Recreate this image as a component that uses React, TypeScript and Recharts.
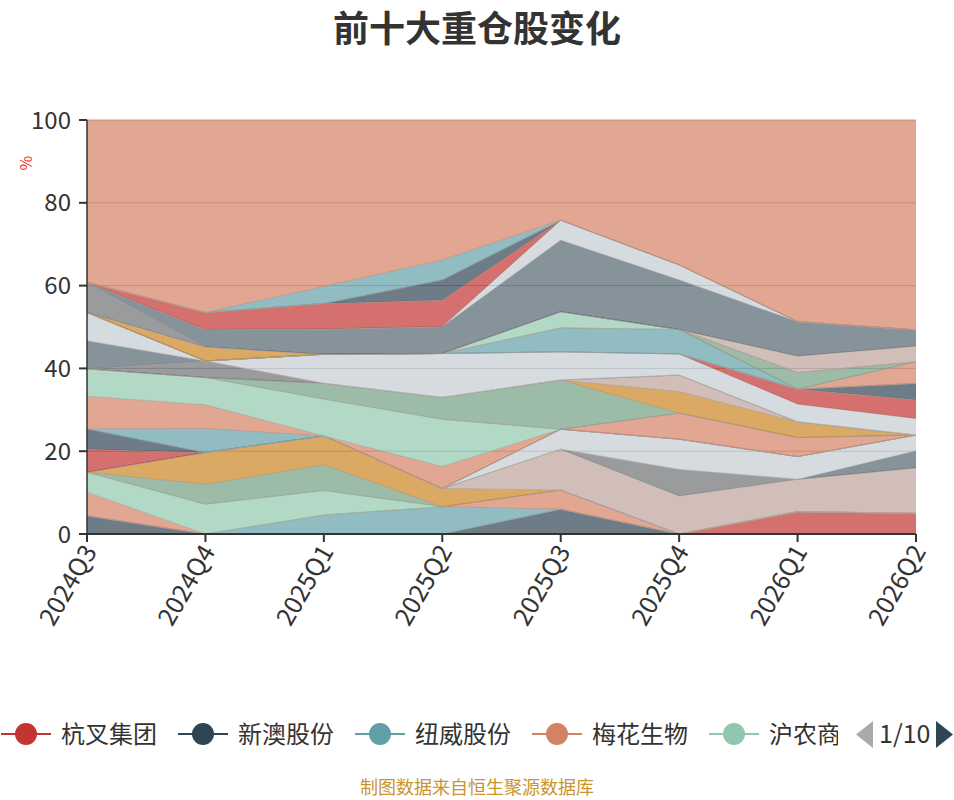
import React from 'react';
import { AreaChart, Area, XAxis, YAxis, CartesianGrid } from 'recharts';

const quarters = ['2024Q3', '2024Q4', '2025Q1', '2025Q2', '2025Q3', '2025Q4', '2026Q1', '2026Q2'];
const yTicks = [0, 20, 40, 60, 80, 100];
const palette = ['#c23531', '#2f4554', '#61a0a8', '#d48265', '#91c7ae', '#749f83', '#ca8622', '#bda29a', '#6e7074', '#546570', '#c4ccd3'];

// holding weight (%) per quarter, in stacking order (bottom first)
const stockNames = [
  '杭叉集团', '新澳股份', '纽威股份', '梅花生物', '沪农商行', '股票06', '股票07', '股票08', '股票09', '股票10',
  '股票11', '股票12', '股票13', '股票14', '股票15', '股票16', '股票17', '股票18', '股票19', '股票20',
  '股票21', '股票22', '股票23', '股票24', '股票25', '股票26', '股票27', '股票28', '股票29', '股票30',
  '股票31', '股票32', '股票33', '股票34', '股票35', '股票36',
];
const stockValues = [
  [0, 0, 0, 0, 0, 0, 5.4, 5.0],
  [4.4, 0, 0, 0, 6.0, 0, 0, 0],
  [0, 0, 4.6, 6.6, 0, 0, 0, 0],
  [5.7, 0, 0, 0, 4.6, 0, 0, 0],
  [4.8, 7.2, 5.9, 0, 0, 0, 0, 0],
  [0, 4.8, 6.2, 0, 0, 0, 0, 0],
  [0, 7.7, 7.0, 4.4, 0, 0, 0, 0],
  [0, 0, 0, 0, 9.9, 9.2, 7.8, 11.0],
  [0, 0, 0, 0, 0, 6.4, 0, 0],
  [0, 0, 0, 0, 0, 0, 0, 4.1],
  [0, 0, 0, 0, 4.8, 7.3, 5.5, 3.8],
  [5.6, 0, 0, 0, 0, 0, 0, 0],
  [4.9, 0, 0, 0, 0, 0, 0, 0],
  [0, 5.8, 0, 0, 0, 0, 0, 0],
  [7.9, 5.7, 0, 5.3, 0, 6.3, 4.6, 0],
  [6.6, 6.6, 8.9, 11.4, 0, 0, 0, 0],
  [0, 0, 3.8, 5.3, 11.9, 0, 0, 0],
  [0, 0, 0, 0, 0, 5.2, 3.8, 0],
  [0, 0, 0, 0, 0, 4.0, 0, 0],
  [0, 4.0, 0, 0, 0, 0, 0, 0],
  [6.8, 0, 0, 0, 0, 0, 0, 0],
  [6.8, 0, 7.0, 10.6, 6.8, 5.1, 4.3, 4.0],
  [0, 0, 0, 0, 0, 0, 3.6, 4.5],
  [0, 0, 0, 0, 0, 0, 0, 4.0],
  [0, 0, 0, 0, 5.8, 5.9, 0, 0],
  [0, 0, 0, 0, 0, 0, 0, 5.2],
  [0, 0, 0, 0, 3.9, 0, 0, 0],
  [0, 0, 0, 0, 0, 0, 4.0, 0],
  [0, 3.4, 0, 0, 0, 0, 0, 0],
  [0, 0, 0, 0, 0, 0, 4.0, 3.8],
  [7.3, 0, 0, 0, 0, 0, 0, 0],
  [0, 4.2, 6.1, 6.5, 17.3, 12.0, 8.3, 3.9],
  [0, 0, 0, 0, 4.8, 3.6, 0, 0],
  [0, 4.1, 6.2, 6.4, 0, 0, 0, 0],
  [0, 0, 0, 4.9, 0, 0, 0, 0],
  [0, 0, 4.1, 4.8, 0, 0, 0, 0],
];
const otherName = '其他';
const otherValues = [39.2, 46.5, 40.2, 33.8, 24.2, 35.0, 48.7, 50.7];

const legendNames = stockNames.slice(0, 5);

const data = quarters.map((q, i) => {
  const row: any = { name: q };
  stockValues.forEach((vals, k) => {
    row['s' + k] = vals[i];
  });
  row.other = otherValues[i];
  return row;
});

const font = '"Noto Sans CJK SC", "Noto Sans", sans-serif';

const XTick = (props: any) => {
  const { x, y, payload } = props;
  return (
    <g transform={`translate(${x + 3},${y + 3})`}>
      <text transform="rotate(-60)" x={0} y={0} dy="0.35em" textAnchor="end" fill="#333" fontSize={25} fontFamily={font}>
        {payload.value}
      </text>
    </g>
  );
};

const Legend = () => (
  <svg width={954} height={44} style={{ position: 'absolute', left: 0, top: 712 }}>
    <defs>
      <clipPath id="legclip">
        <rect x={0} y={0} width={838} height={44} />
      </clipPath>
    </defs>
    <g clipPath="url(#legclip)">
      {legendNames.map((n, i) => {
        const x0 = 1 + i * 177;
        const c = palette[i % palette.length];
        return (
          <g key={n}>
            <line x1={x0} x2={x0 + 50} y1={22} y2={22} stroke={c} strokeWidth={2} />
            <circle cx={x0 + 25} cy={22} r={11} fill={c} />
            <text x={x0 + 60} y={22} dy="0.36em" fontSize={24} fill="#333" fontFamily={font}>
              {n}
            </text>
          </g>
        );
      })}
    </g>
    <polygon points="873,9 873,36 856,22.5" fill="#aaa" />
    <text x={879} y={22} dy="0.36em" fontSize={25} fill="#333" fontFamily={font}>
      1/10
    </text>
    <polygon points="936,9 936,36 953,22.5" fill="#2f4554" />
  </svg>
);

export default function App() {
  return (
    <div style={{ position: 'absolute', left: 0, top: 0, width: 954, height: 800, background: '#fff', fontFamily: font, overflow: 'hidden' }}>
      <div
        style={{
          position: 'absolute',
          left: 0,
          top: 4,
          width: 954,
          textAlign: 'center',
          fontSize: 36,
          fontWeight: 'bold',
          color: '#333',
          lineHeight: '44px',
        }}
      >
        前十大重仓股变化
      </div>
      <AreaChart width={954} height={800} data={data} margin={{ top: 120, right: 38, bottom: 166, left: 0 }}>
        <CartesianGrid vertical={false} stroke="#aaa" />
        <XAxis
          dataKey="name"
          height={100}
          interval={0}
          tick={<XTick />}
          tickSize={8}
          axisLine={{ stroke: '#333', strokeWidth: 2 }}
          tickLine={{ stroke: '#333', strokeWidth: 2 }}
        />
        <YAxis
          width={87}
          domain={[0, 100]}
          ticks={yTicks}
          tickSize={8}
          tickMargin={8}
          tick={{ fill: '#333', fontSize: 24, fontFamily: font }}
          axisLine={{ stroke: '#333', strokeWidth: 1.5 }}
          tickLine={{ stroke: '#333', strokeWidth: 2 }}
        />
        {stockValues.map((_, k) => (
          <Area
            key={k}
            type="linear"
            dataKey={'s' + k}
            name={stockNames[k]}
            stackId="1"
            fill={palette[k % palette.length]}
            fillOpacity={0.7}
            stroke="#a8a09b"
            strokeWidth={0.8}
            dot={false}
            activeDot={false}
            isAnimationActive={false}
          />
        ))}
        <Area
          type="linear"
          dataKey="other"
          name={otherName}
          stackId="1"
          fill={palette[stockValues.length % palette.length]}
          fillOpacity={0.7}
          stroke="none"
          dot={false}
          activeDot={false}
          isAnimationActive={false}
        />
      </AreaChart>
      <div
        style={{
          position: 'absolute',
          left: 18,
          top: 151,
          color: '#ff2a2a',
          fontSize: 16,
          transform: 'rotate(-90deg)',
          transformOrigin: 'center',
        }}
      >
        %
      </div>
      <Legend />
      <div
        style={{
          position: 'absolute',
          left: 0,
          top: 775,
          width: 954,
          textAlign: 'center',
          fontSize: 18,
          color: '#c9952c',
          lineHeight: '22px',
        }}
      >
        制图数据来自恒生聚源数据库
      </div>
    </div>
  );
}
